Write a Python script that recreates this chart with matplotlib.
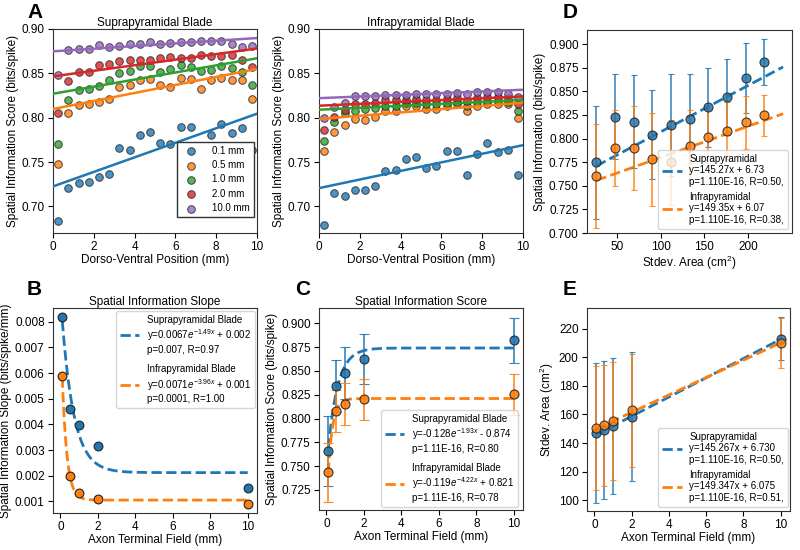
import numpy as np
import matplotlib
matplotlib.use("Agg")
import matplotlib.pyplot as plt

plt.rcParams['font.family'] = ['Liberation Sans', 'DejaVu Sans']
plt.rcParams['mathtext.fontset'] = 'custom'
plt.rcParams['mathtext.rm'] = 'Liberation Sans'
plt.rcParams['mathtext.it'] = 'Liberation Sans:italic'
plt.rcParams['font.size'] = 8.5
plt.rcParams['axes.edgecolor'] = '#333333'
plt.rcParams['axes.linewidth'] = 0.8
plt.rcParams['xtick.major.pad'] = 2.5
plt.rcParams['ytick.major.pad'] = 2.5

COLORS = ['#1f77b4', '#ff7f0e', '#2ca02c', '#d62728', '#9467bd']

# ---- Panel A data (dorso-ventral bins) ----
dv_pos = [0.25, 0.75, 1.25, 1.75, 2.25, 2.75, 3.25, 3.75, 4.25, 4.75,
          5.25, 5.75, 6.25, 6.75, 7.25, 7.75, 8.25, 8.75, 9.25, 9.75]
field_labels = ['0.1 mm', '0.5 mm', '1.0 mm', '2.0 mm', '10.0 mm']

supra_scores = [
    [0.683, 0.721, 0.726, 0.728, 0.733, 0.736, 0.766, 0.764, 0.780, 0.784,
     0.771, 0.770, 0.789, 0.789, 0.765, 0.781, 0.793, 0.783, 0.788, 0.764],
    [0.748, 0.805, 0.814, 0.816, 0.818, 0.821, 0.835, 0.837, 0.843, 0.844,
     0.837, 0.835, 0.845, 0.844, 0.832, 0.842, 0.845, 0.842, 0.842, 0.821],
    [0.770, 0.820, 0.831, 0.832, 0.836, 0.842, 0.850, 0.853, 0.858, 0.858,
     0.852, 0.855, 0.859, 0.857, 0.853, 0.854, 0.858, 0.856, 0.852, 0.837],
    [0.805, 0.841, 0.851, 0.851, 0.859, 0.861, 0.864, 0.865, 0.865, 0.865,
     0.867, 0.868, 0.867, 0.867, 0.871, 0.870, 0.870, 0.871, 0.865, 0.857],
    [0.848, 0.876, 0.877, 0.877, 0.882, 0.880, 0.881, 0.883, 0.883, 0.885,
     0.883, 0.884, 0.885, 0.885, 0.886, 0.887, 0.887, 0.883, 0.880, 0.881],
]
supra_fit_start = [0.7225, 0.8098, 0.827, 0.8466, 0.8748]
supra_fit_end = [0.8045, 0.855, 0.867, 0.878, 0.8898]

infra_scores = [
    [0.679, 0.715, 0.712, 0.719, 0.718, 0.723, 0.740, 0.741, 0.753, 0.756,
     0.743, 0.745, 0.762, 0.763, 0.735, 0.759, 0.771, 0.761, 0.764, 0.735],
    [0.762, 0.784, 0.792, 0.798, 0.797, 0.801, 0.807, 0.808, 0.813, 0.8135,
     0.810, 0.810, 0.8135, 0.815, 0.807, 0.813, 0.815, 0.815, 0.815, 0.800],
    [0.774, 0.795, 0.805, 0.808, 0.810, 0.811, 0.813, 0.8135, 0.8165, 0.8165,
     0.815, 0.815, 0.817, 0.818, 0.8135, 0.818, 0.819, 0.819, 0.818, 0.808],
    [0.786, 0.801, 0.809, 0.815, 0.815, 0.8165, 0.820, 0.8195, 0.820, 0.821,
     0.820, 0.820, 0.821, 0.822, 0.819, 0.822, 0.823, 0.823, 0.822, 0.815],
    [0.800, 0.812, 0.817, 0.824, 0.824, 0.824, 0.826, 0.826, 0.826, 0.8265,
     0.8265, 0.8265, 0.827, 0.828, 0.8265, 0.8285, 0.8285, 0.8285, 0.827, 0.823],
]
infra_fit_start = [0.7206, 0.7985, 0.809, 0.8135, 0.822]
infra_fit_end = [0.769, 0.817, 0.820, 0.824, 0.8315]

# ---- Panels B, C, E data (axon terminal field) ----
atf = [0.1, 0.5, 1.0, 2.0, 10.0]

slope_supra = [0.00817, 0.00458, 0.00398, 0.00316, 0.00153]
slope_infra = [0.00588, 0.00199, 0.00133, 0.00111, 0.00091]
slope_fit_supra = (0.0069, 1.55, 0.00212)
slope_fit_infra = (0.0071, 3.96, 0.00105)
slope_labels = ['Suprapyramidal Blade\ny=0.0067$e^{-1.49x}$ + 0.002\np=0.007, R=0.97',
                'Infrapyramidal Blade\ny=0.0071$e^{-3.96x}$ + 0.001\np=0.0001, R=1.00']

score_supra = [0.766, 0.834, 0.848, 0.8625, 0.882]
score_supra_err = [0.037, 0.027, 0.027, 0.026, 0.024]
score_infra = [0.7435, 0.808, 0.8153, 0.820, 0.8255]
score_infra_err = [0.031, 0.022, 0.022, 0.0215, 0.0215]
score_fit_supra = (-0.128, 1.93, 0.874)
score_fit_infra = (-0.119, 4.22, 0.821)
score_labels = ['Suprapyramidal Blade\ny=-0.128$e^{-1.93x}$ - 0.874\np=1.11E-16, R=0.80',
                'Infrapyramidal Blade\ny=-0.119$e^{-4.22x}$ + 0.821\np=1.11E-16, R=0.78']

area_supra = [147.0, 148.9, 151.7, 158.5, 213.0]
area_supra_err = [48.9, 48.2, 47.4, 45.0, 15.0]
area_infra = [150.5, 152.4, 155.4, 162.9, 210.0]
area_infra_err = [43.3, 42.5, 41.3, 39.3, 17.7]
area_fit_supra = (145.267, 6.730)
area_fit_infra = (149.347, 6.075)
area_labels = ['Suprapyramidal\ny=145.267x + 6.730\np=1.110E-16, R=0.50,',
               'Infrapyramidal\ny=149.347x + 6.075\np=1.110E-16, R=0.51,']

# ---- Panel D data (stdev area vs spatial info) ----
sd_area = [26.4, 47.8, 69.2, 90.6, 112.0, 133.4, 154.8, 176.2, 197.6, 219.0]
info_supra = [0.775, 0.823, 0.818, 0.804, 0.814, 0.821, 0.833, 0.844, 0.864, 0.881]
info_supra_err = [0.060, 0.045, 0.0495, 0.047, 0.054, 0.047, 0.042, 0.040, 0.037, 0.0245]
info_infra = [0.760, 0.790, 0.790, 0.778, 0.775, 0.7924, 0.8016, 0.8083, 0.8171, 0.8245]
info_infra_err = [0.055, 0.040, 0.044, 0.049, 0.045, 0.038, 0.030, 0.030, 0.028, 0.0215]
info_fit_x = [26.4, 240.4]
info_fit_supra = (0.7581, 0.00049)
info_fit_infra = (0.7470, 0.00033)
info_labels = ['Suprapyramidal\ny=145.27x + 6.73\np=1.110E-16, R=0.50,',
               'Infrapyramidal\ny=149.35x + 6.07\np=1.110E-16, R=0.38,']

EDGE = '#222222'

fig = plt.figure(figsize=(8, 5.5), dpi=100)
W, H = 800.0, 550.0


def add_ax(left, top, right, bottom):
    return fig.add_axes([left / W, 1 - bottom / H, (right - left) / W, (bottom - top) / H])


def panel_letter(x, y, s):
    fig.text(x / W, 1 - y / H, s, fontsize=15, fontweight='bold', ha='left', va='baseline')


def plot_dv(ax, scores, fit_start, fit_end, title, legend):
    for i, ys in enumerate(scores):
        ax.scatter(dv_pos, ys, s=30, color=COLORS[i], alpha=0.8, edgecolors=EDGE,
                   linewidths=0.7, label=field_labels[i], zorder=2)
    for i in range(len(scores)):
        ax.plot([0, 10], [fit_start[i], fit_end[i]], color=COLORS[i], lw=1.8, zorder=3)
    ax.set_xlim(0, 10)
    ax.set_ylim(0.67, 0.90)
    ax.set_yticks([0.70, 0.75, 0.80, 0.85, 0.90])
    ax.set_yticklabels(['0.70', '0.75', '0.80', '0.85', '0.90'])
    ax.set_xticks([0, 2, 4, 6, 8, 10])
    ax.set_title(title, fontsize=8.5, pad=2.5)
    ax.set_xlabel('Dorso-Ventral Position (mm)', labelpad=0.5)
    ax.set_ylabel('Spatial Information Score (bits/spike)', labelpad=2)
    if legend:
        ax.legend(loc='lower right', bbox_to_anchor=(0.985, 0.078), borderaxespad=0,
                  fontsize=7, framealpha=1, edgecolor='#333333', fancybox=False,
                  handletextpad=1.2, labelspacing=0.45)


# A: suprapyramidal
axA1 = add_ax(53, 29, 257, 233)
plot_dv(axA1, supra_scores, supra_fit_start, supra_fit_end, 'Suprapyramidal Blade', True)
# A: infrapyramidal
axA2 = add_ax(319, 29, 523, 233)
plot_dv(axA2, infra_scores, infra_fit_start, infra_fit_end, 'Infrapyramidal Blade', False)

xs = np.linspace(atf[0], atf[-1], 200)

# B: slope
axB = add_ax(53, 308, 257, 513)
for (a, b, c), lab, col in zip([slope_fit_supra, slope_fit_infra], slope_labels, COLORS[:2]):
    axB.plot(xs, a * np.exp(-b * xs) + c, '--', color=col, lw=2, label=lab, zorder=2)
axB.scatter(atf, slope_supra, s=40, color=COLORS[0], edgecolors=EDGE, linewidths=0.8, zorder=3)
axB.scatter(atf, slope_infra, s=40, color=COLORS[1], edgecolors=EDGE, linewidths=0.8, zorder=3)
axB.set_xticks([0, 2, 4, 6, 8, 10])
axB.set_yticks([0.001, 0.002, 0.003, 0.004, 0.005, 0.006, 0.007, 0.008])
axB.yaxis.set_major_formatter(matplotlib.ticker.FormatStrFormatter('%.3f'))
axB.set_title('Spatial Information Slope', fontsize=8.5, pad=2.5)
axB.set_xlabel('Axon Terminal Field (mm)', labelpad=0.5)
axB.set_ylabel('Spatial Information Slope (bits/spike/mm)', labelpad=2)
axB.legend(loc='upper right', bbox_to_anchor=(0.99, 0.985), borderaxespad=0, fontsize=7,
           framealpha=0.8, fancybox=True, labelspacing=1.0)

# C: score
axC = add_ax(319, 308, 523, 510)
for (a, b, c), lab, col in zip([score_fit_supra, score_fit_infra], score_labels, COLORS[:2]):
    axC.plot(xs, a * np.exp(-b * xs) + c, '--', color=col, lw=2, label=lab, zorder=2)
for ys, es, col in [(score_supra, score_supra_err, COLORS[0]), (score_infra, score_infra_err, COLORS[1])]:
    axC.errorbar(atf, ys, yerr=es, fmt='o', color=col, ms=6.5, mec=EDGE, mew=0.8,
                 elinewidth=1.2, capsize=3.5, capthick=1.2, ecolor=col, alpha=0.9, zorder=3)
axC.set_xticks([0, 2, 4, 6, 8, 10])
axC.set_yticks([0.725, 0.750, 0.775, 0.800, 0.825, 0.850, 0.875, 0.900])
axC.yaxis.set_major_formatter(matplotlib.ticker.FormatStrFormatter('%.3f'))
axC.set_ylim(0.704, 0.916)
axC.set_title('Spatial Information Score', fontsize=8.5, pad=2.5)
axC.set_xlabel('Axon Terminal Field (mm)', labelpad=0.5)
axC.set_ylabel('Spatial Information Score (bits/spike)', labelpad=2)
axC.legend(loc='lower right', bbox_to_anchor=(0.975, 0.015), borderaxespad=0, fontsize=7,
           framealpha=0.8, labelspacing=1.0)

# D: stdev area vs info
axD = add_ax(587, 30, 792, 233)
fx = np.array(info_fit_x)
for (b0, b1), lab, col in zip([info_fit_supra, info_fit_infra], info_labels, COLORS[:2]):
    axD.plot(fx, b0 + b1 * fx, '--', color=col, lw=2, label=lab, zorder=2)
for ys, es, col in [(info_supra, info_supra_err, COLORS[0]), (info_infra, info_infra_err, COLORS[1])]:
    axD.errorbar(sd_area, ys, yerr=es, fmt='o', color=col, ms=6.5, mec=EDGE, mew=0.8,
                 elinewidth=1.2, capsize=2, capthick=1.2, ecolor=col, alpha=0.85, zorder=3)
axD.set_xlim(15.6, 250.6)
axD.set_ylim(0.700, 0.915)
axD.set_xticks([50, 100, 150, 200])
axD.set_yticks([0.700, 0.725, 0.750, 0.775, 0.800, 0.825, 0.850, 0.875, 0.900])
axD.yaxis.set_major_formatter(matplotlib.ticker.FormatStrFormatter('%.3f'))
axD.set_xlabel('Stdev. Area (cm$^2$)', labelpad=0.5)
axD.set_ylabel('Spatial Information (bits/spike)', labelpad=2)
axD.legend(loc='lower right', bbox_to_anchor=(0.98, 0.02), borderaxespad=0, fontsize=7,
           framealpha=0.8, labelspacing=0.5)

# E: stdev area vs axon terminal field
axE = add_ax(587, 308, 790, 511)
for (b0, b1), lab, col in zip([area_fit_supra, area_fit_infra], area_labels, COLORS[:2]):
    axE.plot(xs, b0 + b1 * xs, '--', color=col, lw=2, label=lab, zorder=2)
for ys, es, col in [(area_supra, area_supra_err, COLORS[0]), (area_infra, area_infra_err, COLORS[1])]:
    axE.errorbar(atf, ys, yerr=es, fmt='o', color=col, ms=6.5, mec=EDGE, mew=0.8,
                 elinewidth=1.2, capsize=2, capthick=1.2, ecolor=col, alpha=0.85, zorder=3)
axE.set_xticks([0, 2, 4, 6, 8, 10])
axE.set_yticks([100, 120, 140, 160, 180, 200, 220])
axE.set_ylim(92.5, 234.4)
axE.set_xlabel('Axon Terminal Field (mm)', labelpad=0.5)
axE.set_ylabel('Stdev. Area (cm$^2$)', labelpad=2)
axE.legend(loc='lower right', bbox_to_anchor=(0.99, 0.02), borderaxespad=0, fontsize=7,
           framealpha=0.8, labelspacing=0.5)

panel_letter(27, 18, 'A')
panel_letter(27, 295, 'B')
panel_letter(295, 295, 'C')
panel_letter(563, 18, 'D')
panel_letter(563, 295, 'E')

fig.savefig('out.png', dpi=100)
